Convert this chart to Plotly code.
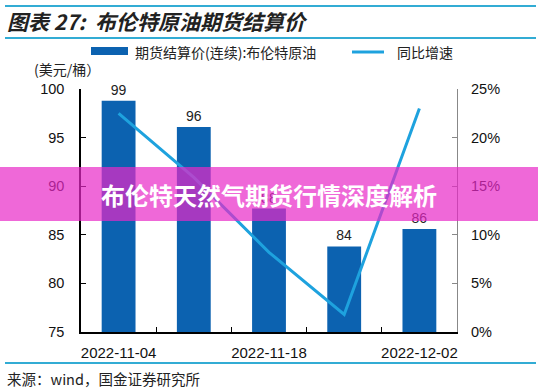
import plotly.graph_objects as go

dates = ["2022-11-04", "2022-11-11", "2022-11-18", "2022-11-25", "2022-12-02"]
tick_text = ["2022-11-04", "", "2022-11-18", "", "2022-12-02"]
prices = [98.8, 96.1, 87.7, 83.8, 85.6]
price_labels = ["99", "96", "88", "84", "86"]
yoy = [0.225, 0.159, 0.082, 0.018, 0.230]

title_text = "图表 27:  布伦特原油期货结算价"
legend_bar = "期货结算价(连续):布伦特原油"
legend_line = "同比增速"
unit_text = "(美元/桶）"
source_text = "来源：wind，国金证券研究所"
banner_text = "布伦特天然气期货行情深度解析"

FONT = "Liberation Sans, Arial, Noto Sans CJK SC"
CJK = "Noto Sans CJK SC, Liberation Sans"
BAR_C = "rgb(12,98,176)"
LINE_C = "rgb(30,162,222)"
RULE_C = "rgb(50,172,212)"

W, H = 538, 389
L, R, T, B = 81, 81, 89, 57
PW, PH = W - L - R, H - T - B


def px(x):
    return (x - L) / PW


def py(y):
    return (H - B - y) / PH


fig = go.Figure()
fig.add_trace(go.Bar(
    x=dates, y=prices, text=price_labels, textposition="outside",
    textfont=dict(size=14, color="#222", family=FONT), cliponaxis=False,
    marker=dict(color=BAR_C, line=dict(width=0)), width=0.45, name=legend_bar,
))
fig.add_trace(go.Scatter(
    x=dates, y=yoy, yaxis="y2", mode="lines",
    line=dict(color=LINE_C, width=3), name=legend_line,
))

fig.update_layout(
    width=W, height=H, margin=dict(l=L, r=R, t=T, b=B, autoexpand=False),
    paper_bgcolor="white", plot_bgcolor="white", showlegend=False,
    font=dict(family=FONT, size=14, color="#111"),
    xaxis=dict(type="category", tickmode="array", tickvals=dates, ticktext=tick_text,
               tickson="boundaries", ticks="inside", ticklen=5, tickcolor="black",
               showline=True, linecolor="black", linewidth=1.5, showgrid=False,
               tickangle=0, automargin=False,
               tickfont=dict(size=15), ticklabelstandoff=6),
    yaxis=dict(range=[75, 100], tickvals=[75, 80, 85, 90, 95, 100], ticks="inside",
               ticklen=5, tickcolor="black", showline=True, linecolor="black",
               linewidth=1.5, showgrid=False, zeroline=False, tickfont=dict(size=14.5),
               ticklabelstandoff=12, automargin=False),
    yaxis2=dict(range=[0, 0.25], overlaying="y", side="right",
                tickvals=[0, 0.05, 0.10, 0.15, 0.20, 0.25], tickformat=".0%",
                ticks="inside", ticklen=5, tickcolor="#888", showline=True,
                linecolor="#888", linewidth=1.2, showgrid=False, zeroline=False,
                tickfont=dict(size=14.5), ticklabelstandoff=10, automargin=False),
)

shapes = []
annotations = []
# rules
for yy in (6, 38, 363):
    shapes.append(dict(type="line", xref="paper", yref="paper", x0=px(5), x1=px(536),
                       y0=py(yy), y1=py(yy), line=dict(color=RULE_C, width=1.8)))
annotations.append(dict(xref="paper", yref="paper", x=px(5), y=py(21), xanchor="left",
                        yanchor="middle", showarrow=False, text=title_text,
                        font=dict(family=CJK, size=21, color="#222", weight="bold",
                                  style="italic")))
# legend
shapes.append(dict(type="rect", xref="paper", yref="paper", x0=px(91), x1=px(128),
                   y0=py(55), y1=py(47), fillcolor=BAR_C, line=dict(width=0)))
annotations.append(dict(xref="paper", yref="paper", x=px(133), y=py(52), xanchor="left",
                        yanchor="middle", showarrow=False, text=legend_bar,
                        font=dict(family=CJK, size=14, color="#222")))
shapes.append(dict(type="line", xref="paper", yref="paper", x0=px(352), x1=px(384),
                   y0=py(52), y1=py(52), line=dict(color=LINE_C, width=3)))
annotations.append(dict(xref="paper", yref="paper", x=px(395), y=py(52), xanchor="left",
                        yanchor="middle", showarrow=False, text=legend_line,
                        font=dict(family=CJK, size=14, color="#222")))
annotations.append(dict(xref="paper", yref="paper", x=px(32), y=py(69), xanchor="left",
                        yanchor="middle", showarrow=False, text=unit_text,
                        font=dict(family=CJK, size=14, color="#222")))
annotations.append(dict(xref="paper", yref="paper", x=px(5), y=py(378), xanchor="left",
                        yanchor="middle", showarrow=False, text=source_text,
                        font=dict(family=CJK, size=14.5, color="#222")))
# banner
shapes.append(dict(type="rect", xref="paper", yref="paper", x0=px(0), x1=px(538),
                   y0=py(221), y1=py(167), fillcolor="rgba(232,40,200,0.70)",
                   line=dict(width=0), layer="above"))
annotations.append(dict(xref="paper", yref="paper", x=px(269), y=py(194), xanchor="center",
                        yanchor="middle", showarrow=False, text=banner_text,
                        font=dict(family=CJK, size=24, color="white", weight="bold")))

fig.update_layout(shapes=shapes, annotations=annotations)
fig.write_html("out.html", config={"displayModeBar": False},
               post_script="document.body.style.margin='0';document.body.style.overflow='hidden';")
